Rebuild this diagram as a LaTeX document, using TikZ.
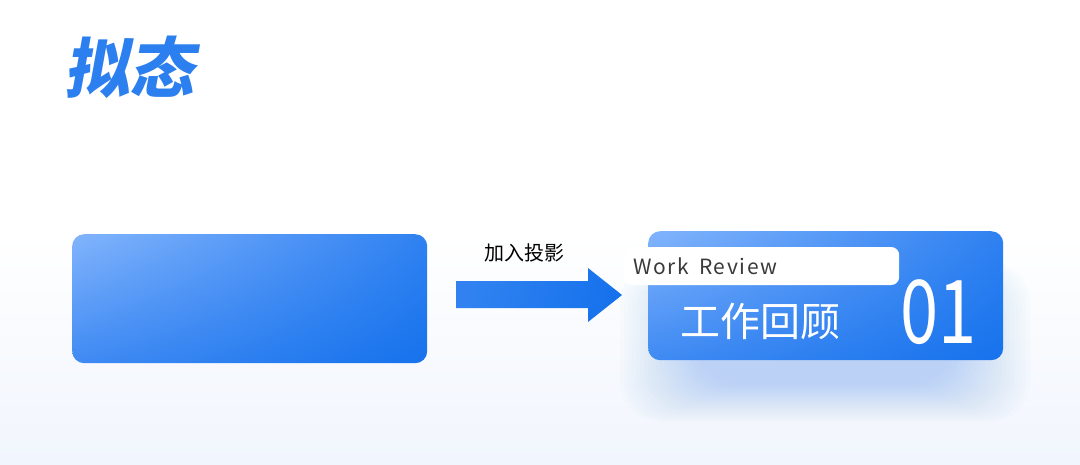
\documentclass[tikz,border=0pt]{standalone}
\usepackage{fontspec}
\usepackage{xcolor}
\usetikzlibrary{positioning,shadings}
\newfontfamily\cjk{Noto Sans CJK SC}
\newfontfamily\cjktitle{Noto Sans CJK SC}[FakeSlant=0.18]
\newfontfamily\latinspaced{Noto Sans CJK SC}[LetterSpace=8]
\definecolor{boxlight}{HTML}{82B4FC}
\definecolor{boxmidr}{HTML}{2F81F1}
\definecolor{boxmidl}{HTML}{3F8AF3}
\definecolor{boxdark}{HTML}{1672EC}
\definecolor{bgblue}{HTML}{F1F5FD}
\definecolor{glow}{HTML}{5C9CF6}
\definecolor{labelgrey}{HTML}{3A3A3A}
\tikzset{
card/.style={rounded corners=12pt,minimum width=355pt,minimum height=129pt,inner sep=0pt,
  upper left=boxlight,upper right=boxmidr,lower left=boxmidl,lower right=boxdark},
tag/.style={fill=white,rounded corners=8pt,minimum width=275pt,minimum height=38pt,
  inner sep=0pt,inner xsep=9pt,text width=257pt,align=left},
}

\begin{document}
\begin{tikzpicture}[x=1pt,y=-1pt]
\shade[top color=white,bottom color=bgblue,middle color=white] (0,0) rectangle (1080,464);
\useasboundingbox (0,0) rectangle (1080,464);
% title
\node[anchor=west,inner sep=0pt,text=boxdark!80!boxlight,font=\cjktitle\bfseries\fontsize{65}{65}\selectfont] (title) at (64,67) {拟态};
% plain box
\node[card,anchor=north west] (plain) at (72,234) {};
\node[font=\cjk\fontsize{20}{20}\selectfont,text=black] (caption) at (524,253) {加入投影};
\shade[left color=boxdark!75!boxlight,right color=boxdark,shading angle=75]
(456,281)--(588,281)--(588,268)--(622,295)--(588,322)--(588,308)--(456,308)--cycle;
% shadow of the card
\foreach \i in {0,...,19}
\fill[glow,opacity=0.018,rounded corners=40pt] (620+4*\i,262+2*\i) rectangle (1030-4*\i,422-2*\i);
\node[card,anchor=north west] (card) at (648,231) {};
\node[tag,anchor=west] (tag) at (624,266) {\latinspaced\color{labelgrey}\fontsize{21}{21}\selectfont Work\hspace{10pt}Review};
\node[anchor=west,inner sep=0pt,text=white,font=\cjk\fontsize{40}{40}\selectfont] (cardtitle) at (680,321) {工作回顾};
\node[anchor=east,inner sep=0pt,text=white,font=\cjk\fontsize{88}{88}\selectfont] (cardnum) at (977,312) {\scalebox{0.78}[1]{01}};
\end{tikzpicture}
\end{document}
